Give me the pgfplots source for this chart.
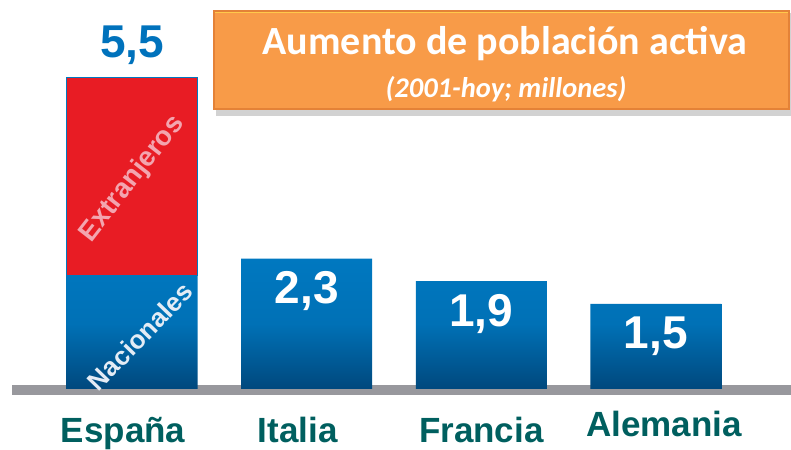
\documentclass[border=0pt]{standalone}
\usepackage{fontspec}
\setmainfont{Liberation Sans}
\newfontfamily\carlito{Carlito}
\usepackage{pgfplots}
\pgfplotsset{compat=1.18}
\definecolor{barblue}{RGB}{0,120,192}
\definecolor{bardark}{RGB}{0,72,125}
\definecolor{barred}{RGB}{232,28,36}
\definecolor{catteal}{RGB}{0,95,95}
\definecolor{boxorange}{RGB}{248,155,72}
\definecolor{boxedge}{RGB}{228,130,55}
\definecolor{valblue}{RGB}{0,114,188}
\definecolor{pinklab}{RGB}{243,165,175}
\definecolor{natlab}{RGB}{228,236,245}
\definecolor{linegray}{RGB}{152,152,157}
\begin{document}
\begin{tikzpicture}
\path[use as bounding box] (0,0) rectangle (791bp,450bp);
\begin{scope}[x=1bp,y=1bp]
\fill[linegray] (12,55) rectangle (791,65);
\fill[black!35,opacity=0.5] (216,334) rectangle (791,437);
\fill[boxorange] (213,340) rectangle (790,440);
\draw[boxedge, line width=2bp] (214,341) rectangle (789,439);
\draw[orange!60!yellow!70, line width=1.5bp] (215,437.5) -- (788,437.5);
\node[anchor=base, text=white, inner sep=0pt] at (505,395) {\carlito\bfseries\fontsize{40bp}{48bp}\selectfont Aumento de población activa};
\node[anchor=base, text=white, inner sep=0pt] at (506,353) {\carlito\bfseries\itshape\fontsize{28.5bp}{32bp}\selectfont (2001-hoy; millones)};
\end{scope}
\begin{axis}[at={(0,0)}, anchor=south west, scale only axis,
  width=791bp, height=450bp, hide axis, clip=false,
  xmin=-0.7566, xmax=3.774, ymin=-1.0753, ymax=6.857,
  ybar stacked, bar width=0.75]
\addplot[draw=none, top color=barblue, bottom color=bardark, middle color=barblue!85!bardark] coordinates {(0,2.0) (1,2.3) (2,1.9) (3,1.5)};
\addplot[fill=barred, draw=barblue, line width=0.8bp] coordinates {(0,3.5)};
\coordinate (es) at (axis cs:0,5.5);
\coordinate (it) at (axis cs:1,2.3);
\coordinate (fr) at (axis cs:2,1.9);
\coordinate (de) at (axis cs:3,1.5);
\coordinate (c0) at (axis cs:0,0);
\coordinate (c1) at (axis cs:1,0);
\coordinate (c2) at (axis cs:2,0);
\coordinate (c3) at (axis cs:3,0);
\coordinate (ext) at (axis cs:0.002,3.70);
\coordinate (nat) at (axis cs:0.045,0.93);
\end{axis}
\begin{scope}[every node/.style={inner sep=0pt}]
\node[anchor=base, text=valblue, yshift=19bp, font=\bfseries\fontsize{46bp}{50bp}\selectfont] at (es) {5,5};
\node[anchor=base, text=white, yshift=-45bp, font=\bfseries\fontsize{46bp}{50bp}\selectfont] at (it) {2,3};
\node[anchor=base, text=white, yshift=-45bp, font=\bfseries\fontsize{46bp}{50bp}\selectfont] at (fr) {1,9};
\node[anchor=base, text=white, yshift=-45bp, font=\bfseries\fontsize{46bp}{50bp}\selectfont] at (de) {1,5};
\node[anchor=base, text=catteal, xshift=-9bp, yshift=-54bp, font=\bfseries\fontsize{35bp}{40bp}\selectfont] at (c0) {España};
\node[anchor=base, text=catteal, xshift=-9bp, yshift=-54bp, font=\bfseries\fontsize{35bp}{40bp}\selectfont] at (c1) {Italia};
\node[anchor=base, text=catteal, xshift=0bp, yshift=-54bp, font=\bfseries\fontsize{35bp}{40bp}\selectfont] at (c2) {Francia};
\node[anchor=base, text=catteal, xshift=8bp, yshift=-48bp, font=\bfseries\fontsize{35bp}{40bp}\selectfont] at (c3) {Alemania};
\node[rotate=52, text=pinklab, font=\bfseries\fontsize{27.5bp}{30bp}\selectfont] at (ext) {Extranjeros};
\node[rotate=46, text=natlab, font=\bfseries\fontsize{26bp}{30bp}\selectfont] at (nat) {Nacionales};
\end{scope}
\end{tikzpicture}
\end{document}
